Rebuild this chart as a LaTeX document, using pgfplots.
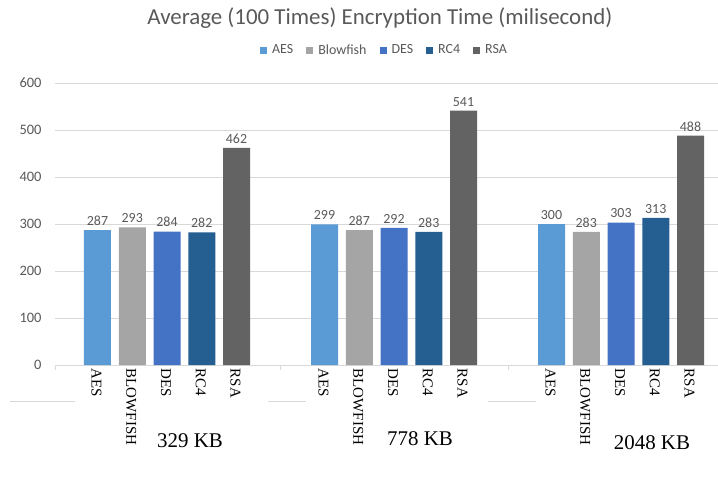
\documentclass[border=0pt]{standalone}
\usepackage{fontspec}
\setmainfont{Liberation Serif}
\newfontfamily\calibri{Carlito}
\usepackage{pgfplots}
\pgfplotsset{compat=1.18}

\definecolor{cAES}{HTML}{5B9BD5}
\definecolor{cBlow}{HTML}{A5A5A5}
\definecolor{cDES}{HTML}{4472C4}
\definecolor{cRC}{HTML}{255E91}
\definecolor{cRSA}{HTML}{636363}
\definecolor{txt}{HTML}{595959}
\definecolor{gridc}{HTML}{D9D9D9}

% group starts (centre of the first bar) and spacing between bars
% group 1: 97.5, group 2: 324.5, group 3: 551.5, step 34.75
\begin{document}
\begin{tikzpicture}
\useasboundingbox (-55bp,-114bp) rectangle (663bp,365bp);
\begin{axis}[
  at={(0,0)}, anchor=south west,
  scale only axis, width=663bp, height=282bp,
  xmin=55, xmax=718, ymin=0, ymax=600,
  ybar, bar width=27,
  every axis plot/.append style={bar shift=0pt, draw=none},
  axis x line*=bottom, axis y line*=left,
  x axis line style={draw=gridc, line width=0.8bp},
  y axis line style={draw=none},
  ytick={0,100,...,600},
  ymajorgrids, grid style={draw=gridc, line width=0.8bp},
  ytick style={draw=none},
  xtick={97.5,132.25,167,201.75,236.5,
         324.5,359.25,394,428.75,463.5,
         551.5,586.25,621,655.75,690.5},
  xticklabels={AES,BLOWFISH,DES,RC4,RSA,
               AES,BLOWFISH,DES,RC4,RSA,
               AES,BLOWFISH,DES,RC4,RSA},
  major x tick style={draw=none},
  xticklabel style={rotate=-90, anchor=west, font=\fontsize{15}{15}\selectfont, text=black, xshift=-4bp, yshift=-1bp},
  extra x ticks={55,280,508},
  extra x tick labels={},
  extra x tick style={grid=none, tick align=outside, major tick length=5bp,
      major x tick style={draw=gridc, line width=0.8bp}},
  yticklabel style={font=\calibri\fontsize{14.5}{14.5}\selectfont, text=txt, xshift=-10bp},
  /pgf/number format/assume math mode=true,
  nodes near coords,
  every node near coord/.append style={font=\calibri\fontsize{14}{14}\selectfont, text=txt, yshift=1bp},
  legend columns=-1,
  legend style={draw=none, fill=none, at={(0.497,1.117)}, anchor=center,
      font=\calibri\fontsize{14}{14}\selectfont, text=txt,
      /tikz/every odd column/.append style={column sep=3bp},
      /tikz/every even column/.append style={column sep=11bp}},
  legend image code/.code={\fill[#1] (0bp,-3.5bp) rectangle (7bp,3.5bp);},
  title={Average (100 Times) Encryption Time (milisecond)},
  title style={at={(0.49,1.21)}, anchor=center, font=\calibri\fontsize{23}{23}\selectfont, text=txt},
  clip=false,
]
\addplot[fill=cAES] coordinates {(97.5,287) (324.5,299) (551.5,300)};
\addplot[fill=cBlow] coordinates {(132.25,293) (359.25,287) (586.25,283)};
\addplot[fill=cDES] coordinates {(167,284) (394,292) (621,303)};
\addplot[fill=cRC] coordinates {(201.75,282) (428.75,283) (655.75,313)};
\addplot[fill=cRSA] coordinates {(236.5,462) (463.5,541) (690.5,488)};
\legend{AES,Blowfish,DES,RC4,RSA}
\end{axis}
% separators of the second category level
\draw[gridc, line width=0.8bp] (-45bp,-36bp) -- (20bp,-36bp);
\draw[gridc, line width=0.8bp] (213bp,-36bp) -- (251bp,-36bp);
\draw[gridc, line width=0.8bp] (433bp,-36bp) -- (481bp,-36bp);
% file size of each group
\node[font=\fontsize{21}{21}\selectfont] at (135bp,-76bp) {329 KB};
\node[font=\fontsize{21}{21}\selectfont] at (365bp,-74bp) {778 KB};
\node[font=\fontsize{21}{21}\selectfont] at (597bp,-78bp) {2048 KB};
\end{tikzpicture}
\end{document}
